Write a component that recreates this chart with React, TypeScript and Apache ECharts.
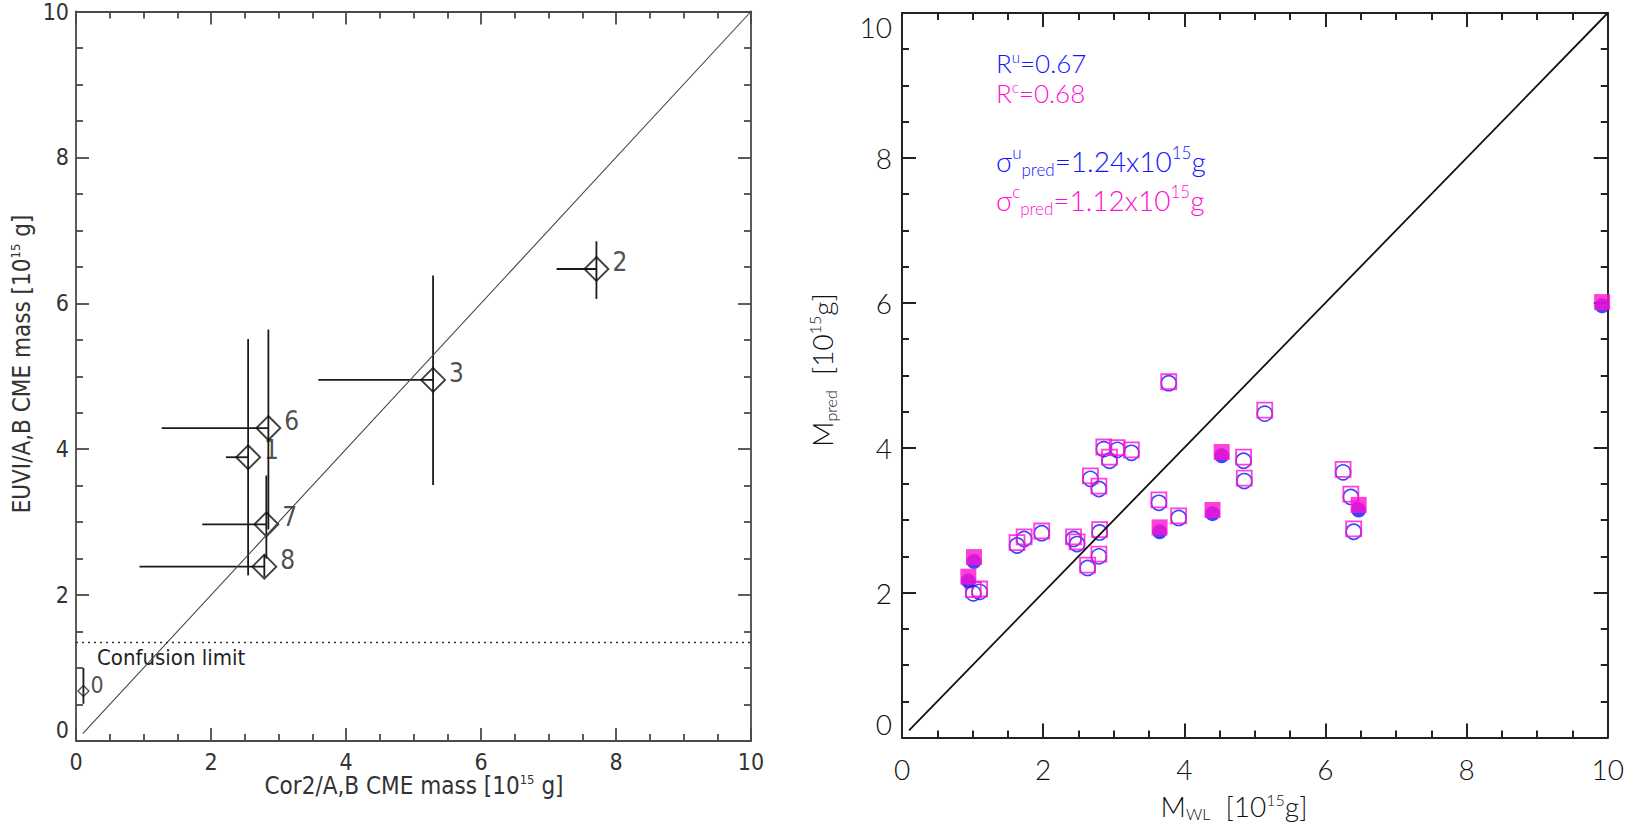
import React, { useEffect, useRef } from 'react';
import * as echarts from 'echarts';

// ---------- Left panel: EUVI vs Cor2 CME masses ----------
const leftNames = ['0', '1', '2', '3', '6', '7', '8'];
const leftX = [0.11, 2.55, 7.71, 5.29, 2.85, 2.82, 2.79];
const leftY = [0.685, 3.89, 6.47, 4.95, 4.29, 2.97, 2.39];
const leftXLow = [0.11, 2.22, 7.12, 3.59, 1.27, 1.87, 0.94];
const leftXHigh = [0.11, 2.55, 7.71, 5.29, 2.85, 2.82, 2.79];
const leftYLow = [0.51, 2.27, 6.06, 3.51, 2.9, 2.5, 2.25];
const leftYHigh = [1.0, 5.51, 6.85, 6.38, 5.64, 3.64, 2.55];
const confusionLimit = 1.35;
const diagonalEnds = [0.1, 10];

// ---------- Right panel: predicted vs white-light masses ----------
const openX = [3.78, 5.14, 2.86, 3.05, 3.25, 2.94, 2.67, 2.79, 3.64, 3.92, 2.8, 1.98, 1.73, 1.63, 2.43, 2.48, 2.79, 2.63, 1.01, 1.1, 4.84, 4.85, 6.25, 6.36, 6.4];
const openYc = [4.91, 4.52, 4.01, 4.0, 3.97, 3.87, 3.61, 3.47, 3.28, 3.06, 2.87, 2.85, 2.77, 2.69, 2.77, 2.7, 2.53, 2.38, 2.04, 2.05, 3.87, 3.58, 3.7, 3.36, 2.88];
const openYu = [4.89, 4.47, 3.98, 3.97, 3.93, 3.82, 3.57, 3.43, 3.24, 3.03, 2.83, 2.82, 2.74, 2.65, 2.74, 2.67, 2.5, 2.34, 1.99, 2.01, 3.82, 3.54, 3.66, 3.32, 2.84];
const filledX = [4.53, 4.4, 3.65, 6.47, 1.02, 0.94, 9.92];
const filledYc = [3.94, 3.14, 2.9, 3.21, 2.49, 2.22, 6.01];
const filledYu = [3.89, 3.09, 2.84, 3.14, 2.43, 2.16, 5.96];
const corrR = ['0.67', '0.68'];
const sigmaPred = ['1.24', '1.12'];

const axisMin = 0;
const axisMax = 10;
const axisInterval = 2;

const NARROW = '"Liberation Sans Narrow", "DejaVu Sans Condensed", "Liberation Sans", sans-serif';
const THIN = 'Lato, "Open Sans", "Noto Sans", sans-serif';
const BLUE = '#1414ff';
const MAGENTA = '#ff10d0';

function makeAxis(kind: 'x' | 'y', gridIndex: number, position: string, showLabel: boolean, left: boolean) {
  const color = left ? '#4a4a4a' : '#222';
  const width = left ? 1.8 : 2;
  const labelStyle: any = left
    ? { fontFamily: NARROW, fontSize: 23, color: '#333', margin: kind === 'x' ? 9 : 7 }
    : { fontFamily: THIN, fontWeight: 300, fontSize: 28, color: '#111', margin: kind === 'x' ? 17 : 10 };
  if (kind === 'y') {
    labelStyle.verticalAlignMinLabel = 'bottom';
    labelStyle.verticalAlignMaxLabel = left ? 'middle' : 'top';
  }
  return {
    type: 'value',
    gridIndex,
    position,
    min: axisMin,
    max: axisMax,
    interval: axisInterval,
    axisLine: { show: true, onZero: false, lineStyle: { color, width } },
    axisTick: { show: true, inside: true, length: left ? 13 : 14, lineStyle: { color, width } },
    minorTick: { show: true, splitNumber: 4, length: 7, lineStyle: { color, width } },
    splitLine: { show: false },
    minorSplitLine: { show: false },
    axisLabel: { show: showLabel, ...labelStyle },
  };
}

function richText(x: number, y: number, text: string, opts: any) {
  const { fontSize, fontFamily, fill, supSize, rotation, align, lineHeight, fontWeight } = opts;
  return {
    type: 'text',
    x,
    y,
    rotation: rotation || 0,
    silent: true,
    style: {
      text,
      fontSize,
      fontFamily,
      fontWeight: fontWeight || 'normal',
      fill,
      lineHeight: lineHeight || fontSize + 6,
      align: align || 'center',
      verticalAlign: 'middle',
      textAlign: align || 'center',
      textVerticalAlign: 'middle',
      rich: {
        sup: { fontSize: supSize, fontFamily, fontWeight: fontWeight || 'normal', fill, verticalAlign: 'top', lineHeight: supSize + 2 },
        sub: { fontSize: supSize, fontFamily, fontWeight: fontWeight || 'normal', fill, verticalAlign: 'bottom', lineHeight: supSize + 2 },
      },
    },
  };
}

export default function App() {
  const ref = useRef<HTMLDivElement>(null);

  useEffect(() => {
    if (!ref.current) return;
    const chart = echarts.init(ref.current, null, { renderer: 'svg' });

    const errorData = leftX.map((x, i) => [x, leftY[i], leftXLow[i], leftXHigh[i], leftYLow[i], leftYHigh[i]]);
    const bigPts = leftNames
      .map((n, i) => ({ name: n, value: [leftX[i], leftY[i]] }))
      .filter((d) => d.value[1] >= confusionLimit);
    const smallPts = leftNames
      .map((n, i) => ({ name: n, value: [leftX[i], leftY[i]] }))
      .filter((d) => d.value[1] < confusionLimit);

    const option: any = {
      animation: false,
      backgroundColor: '#ffffff',
      grid: [
        { left: 76, top: 11, width: 675, height: 730 },
        { left: 902, top: 13, width: 706, height: 724.5 },
      ],
      xAxis: [
        makeAxis('x', 0, 'bottom', true, true),
        makeAxis('x', 0, 'top', false, true),
        makeAxis('x', 1, 'bottom', true, false),
        makeAxis('x', 1, 'top', false, false),
      ],
      yAxis: [
        makeAxis('y', 0, 'left', true, true),
        makeAxis('y', 0, 'right', false, true),
        makeAxis('y', 1, 'left', true, false),
        makeAxis('y', 1, 'right', false, false),
      ],
      series: [
        // left diagonal
        {
          type: 'line',
          xAxisIndex: 0,
          yAxisIndex: 0,
          data: [[diagonalEnds[0], diagonalEnds[0]], [diagonalEnds[1], diagonalEnds[1]]],
          symbol: 'none',
          silent: true,
          lineStyle: { color: '#444', width: 1.1 },
        },
        // confusion limit
        {
          type: 'line',
          xAxisIndex: 0,
          yAxisIndex: 0,
          data: [[axisMin, confusionLimit], [axisMax, confusionLimit]],
          symbol: 'none',
          silent: true,
          lineStyle: { color: '#333', width: 1.6, type: [2, 4] },
        },
        // error bars
        {
          type: 'custom',
          xAxisIndex: 0,
          yAxisIndex: 0,
          silent: true,
          dimensions: ['x', 'y', 'xl', 'xh', 'yl', 'yh'],
          encode: { x: 0, y: 1 },
          data: errorData,
          renderItem: (params: any, api: any) => {
            const x = api.value(0);
            const y = api.value(1);
            const xl = api.coord([api.value(2), y]);
            const xh = api.coord([api.value(3), y]);
            const yl = api.coord([x, api.value(4)]);
            const yh = api.coord([x, api.value(5)]);
            const st = { stroke: '#1a1a1a', lineWidth: 1.8 };
            return {
              type: 'group',
              children: [
                { type: 'line', shape: { x1: xl[0], y1: xl[1], x2: xh[0], y2: xh[1] }, style: st },
                { type: 'line', shape: { x1: yl[0], y1: yl[1], x2: yh[0], y2: yh[1] }, style: st },
              ],
            };
          },
        },
        // diamonds
        {
          type: 'scatter',
          xAxisIndex: 0,
          yAxisIndex: 0,
          data: bigPts,
          symbol: 'diamond',
          symbolSize: 24,
          itemStyle: { color: 'rgba(0,0,0,0)', borderColor: '#111', borderWidth: 1.9 },
          label: {
            show: true,
            position: 'right',
            distance: 3,
            offset: [0, -7],
            formatter: (p: any) => p.name,
            fontFamily: NARROW,
            fontSize: 26,
            color: '#222',
          },
        },
        {
          type: 'scatter',
          xAxisIndex: 0,
          yAxisIndex: 0,
          data: smallPts,
          symbol: 'diamond',
          symbolSize: 11,
          itemStyle: { color: 'rgba(0,0,0,0)', borderColor: '#222', borderWidth: 1.3 },
          label: {
            show: true,
            position: 'right',
            distance: 1,
            offset: [0, -6],
            formatter: (p: any) => p.name,
            fontFamily: NARROW,
            fontSize: 23,
            color: '#222',
          },
        },
        // right diagonal
        {
          type: 'line',
          xAxisIndex: 2,
          yAxisIndex: 2,
          data: [[diagonalEnds[0], diagonalEnds[0]], [diagonalEnds[1], diagonalEnds[1]]],
          symbol: 'none',
          silent: true,
          lineStyle: { color: '#111', width: 1.8 },
        },
        // open: uncorrected (circles)
        {
          type: 'scatter',
          xAxisIndex: 2,
          yAxisIndex: 2,
          data: openX.map((x, i) => [x, openYu[i]]),
          symbol: 'circle',
          symbolSize: 15,
          itemStyle: { color: 'rgba(0,0,0,0)', borderColor: BLUE, borderWidth: 1.6 },
        },
        // open: corrected (squares)
        {
          type: 'scatter',
          xAxisIndex: 2,
          yAxisIndex: 2,
          data: openX.map((x, i) => [x, openYc[i]]),
          symbol: 'rect',
          symbolSize: 15,
          itemStyle: { color: 'rgba(0,0,0,0)', borderColor: MAGENTA, borderWidth: 1.8 },
        },
        // filled: uncorrected
        {
          type: 'scatter',
          xAxisIndex: 2,
          yAxisIndex: 2,
          data: filledX.map((x, i) => [x, filledYu[i]]),
          symbol: 'circle',
          symbolSize: 15,
          itemStyle: { color: BLUE },
        },
        // filled: corrected
        {
          type: 'scatter',
          xAxisIndex: 2,
          yAxisIndex: 2,
          data: filledX.map((x, i) => [x, filledYc[i]]),
          symbol: 'rect',
          symbolSize: 16,
          itemStyle: { color: MAGENTA },
        },
      ],
      graphic: [
        {
          type: 'text',
          x: 97,
          y: 657,
          silent: true,
          style: { text: 'Confusion limit', fontSize: 22, fontFamily: NARROW, fill: '#222', align: 'left', verticalAlign: 'middle', textAlign: 'left', textVerticalAlign: 'middle' },
        },
        richText(414, 786, 'Cor2/A,B CME mass [10{sup|15} g]', { fontSize: 24, fontFamily: NARROW, fill: '#333', supSize: 13, lineHeight: 26 }),
        richText(22, 364, 'EUVI/A,B CME mass [10{sup|15} g]', { fontSize: 24, fontFamily: NARROW, fill: '#333', supSize: 13, lineHeight: 26, rotation: Math.PI / 2 }),
        richText(1234, 806, 'M{sub|WL}  [10{sup|15}g]', { fontSize: 28, fontFamily: THIN, fontWeight: 300, fill: '#111', supSize: 16, lineHeight: 30 }),
        richText(822, 370, 'M{sub|pred}  [10{sup|15}g]', { fontSize: 28, fontFamily: THIN, fontWeight: 300, fill: '#111', supSize: 16, lineHeight: 32, rotation: Math.PI / 2 }),
        richText(996, 63, 'R{sup|u}=' + corrR[0], { fontSize: 26, fontFamily: THIN, fontWeight: 300, fill: BLUE, supSize: 15, align: 'left', lineHeight: 27 }),
        richText(996, 93, 'R{sup|c}=' + corrR[1], { fontSize: 26, fontFamily: THIN, fontWeight: 300, fill: MAGENTA, supSize: 15, align: 'left', lineHeight: 27 }),
        richText(996, 161, 'σ{sup|u}{sub|pred}=' + sigmaPred[0] + 'x10{sup|15}g', { fontSize: 28, fontFamily: THIN, fontWeight: 300, fill: BLUE, supSize: 17, align: 'left', lineHeight: 34 }),
        richText(996, 200, 'σ{sup|c}{sub|pred}=' + sigmaPred[1] + 'x10{sup|15}g', { fontSize: 28, fontFamily: THIN, fontWeight: 300, fill: MAGENTA, supSize: 17, align: 'left', lineHeight: 34 }),
      ],
    };

    chart.setOption(option);
    return () => chart.dispose();
  }, []);

  return (
    <div
      ref={ref}
      style={{ position: 'fixed', left: 0, top: 0, width: 1627, height: 826, background: '#fff' }}
    />
  );
}
